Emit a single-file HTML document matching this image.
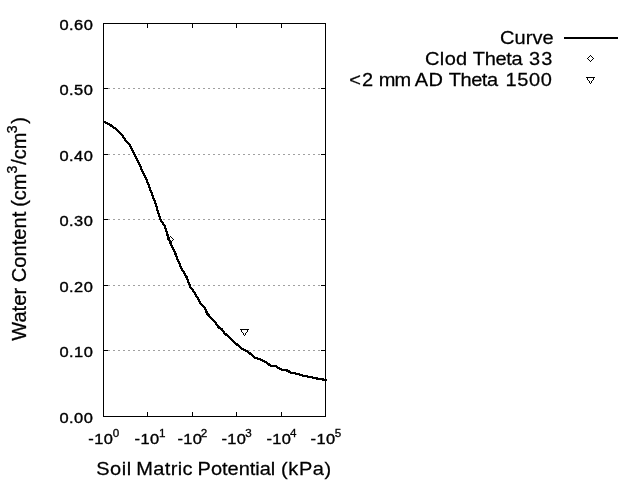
<!DOCTYPE html>
<html><head><meta charset="utf-8"><title>Water Retention Curve</title>
<style>
html,body{margin:0;padding:0;background:#fff;}
body{width:640px;height:480px;overflow:hidden;font-family:"Liberation Sans",sans-serif;}
svg{display:block;will-change:transform;}
text{font-family:"Liberation Sans",sans-serif;fill:#000;stroke:#000;stroke-width:0.2px;}
.tk{font-size:15.5px;stroke-width:0.4px;}
.sup{font-size:11.0px;stroke-width:0.3px;}
.big{font-size:18.8px;stroke-width:0.25px;}
.bsup{font-size:13.6px;stroke-width:0.25px;}
.ybig{font-size:20px;stroke-width:0.3px;}
.ysup{font-size:14px;stroke-width:0.3px;}
</style></head><body>
<svg width="640" height="480" viewBox="0 0 640 480">
<rect x="0" y="0" width="640" height="480" fill="#fff"/>

<g shape-rendering="crispEdges" fill="#a0a0a0">
<rect x="108" y="350" width="2" height="1"/>
<rect x="113" y="350" width="2" height="1"/>
<rect x="118" y="350" width="2" height="1"/>
<rect x="123" y="350" width="2" height="1"/>
<rect x="128" y="350" width="2" height="1"/>
<rect x="133" y="350" width="2" height="1"/>
<rect x="138" y="350" width="2" height="1"/>
<rect x="143" y="350" width="2" height="1"/>
<rect x="148" y="350" width="2" height="1"/>
<rect x="153" y="350" width="2" height="1"/>
<rect x="158" y="350" width="2" height="1"/>
<rect x="163" y="350" width="2" height="1"/>
<rect x="168" y="350" width="2" height="1"/>
<rect x="173" y="350" width="2" height="1"/>
<rect x="178" y="350" width="2" height="1"/>
<rect x="183" y="350" width="2" height="1"/>
<rect x="188" y="350" width="2" height="1"/>
<rect x="193" y="350" width="2" height="1"/>
<rect x="198" y="350" width="2" height="1"/>
<rect x="203" y="350" width="2" height="1"/>
<rect x="208" y="350" width="2" height="1"/>
<rect x="213" y="350" width="2" height="1"/>
<rect x="218" y="350" width="2" height="1"/>
<rect x="223" y="350" width="2" height="1"/>
<rect x="228" y="350" width="2" height="1"/>
<rect x="233" y="350" width="2" height="1"/>
<rect x="238" y="350" width="2" height="1"/>
<rect x="243" y="350" width="2" height="1"/>
<rect x="248" y="350" width="2" height="1"/>
<rect x="253" y="350" width="2" height="1"/>
<rect x="258" y="350" width="2" height="1"/>
<rect x="263" y="350" width="2" height="1"/>
<rect x="268" y="350" width="2" height="1"/>
<rect x="273" y="350" width="2" height="1"/>
<rect x="278" y="350" width="2" height="1"/>
<rect x="283" y="350" width="2" height="1"/>
<rect x="288" y="350" width="2" height="1"/>
<rect x="293" y="350" width="2" height="1"/>
<rect x="298" y="350" width="2" height="1"/>
<rect x="303" y="350" width="2" height="1"/>
<rect x="308" y="350" width="2" height="1"/>
<rect x="313" y="350" width="2" height="1"/>
<rect x="318" y="350" width="2" height="1"/>
<rect x="108" y="285" width="2" height="1"/>
<rect x="113" y="285" width="2" height="1"/>
<rect x="118" y="285" width="2" height="1"/>
<rect x="123" y="285" width="2" height="1"/>
<rect x="128" y="285" width="2" height="1"/>
<rect x="133" y="285" width="2" height="1"/>
<rect x="138" y="285" width="2" height="1"/>
<rect x="143" y="285" width="2" height="1"/>
<rect x="148" y="285" width="2" height="1"/>
<rect x="153" y="285" width="2" height="1"/>
<rect x="158" y="285" width="2" height="1"/>
<rect x="163" y="285" width="2" height="1"/>
<rect x="168" y="285" width="2" height="1"/>
<rect x="173" y="285" width="2" height="1"/>
<rect x="178" y="285" width="2" height="1"/>
<rect x="183" y="285" width="2" height="1"/>
<rect x="188" y="285" width="2" height="1"/>
<rect x="193" y="285" width="2" height="1"/>
<rect x="198" y="285" width="2" height="1"/>
<rect x="203" y="285" width="2" height="1"/>
<rect x="208" y="285" width="2" height="1"/>
<rect x="213" y="285" width="2" height="1"/>
<rect x="218" y="285" width="2" height="1"/>
<rect x="223" y="285" width="2" height="1"/>
<rect x="228" y="285" width="2" height="1"/>
<rect x="233" y="285" width="2" height="1"/>
<rect x="238" y="285" width="2" height="1"/>
<rect x="243" y="285" width="2" height="1"/>
<rect x="248" y="285" width="2" height="1"/>
<rect x="253" y="285" width="2" height="1"/>
<rect x="258" y="285" width="2" height="1"/>
<rect x="263" y="285" width="2" height="1"/>
<rect x="268" y="285" width="2" height="1"/>
<rect x="273" y="285" width="2" height="1"/>
<rect x="278" y="285" width="2" height="1"/>
<rect x="283" y="285" width="2" height="1"/>
<rect x="288" y="285" width="2" height="1"/>
<rect x="293" y="285" width="2" height="1"/>
<rect x="298" y="285" width="2" height="1"/>
<rect x="303" y="285" width="2" height="1"/>
<rect x="308" y="285" width="2" height="1"/>
<rect x="313" y="285" width="2" height="1"/>
<rect x="318" y="285" width="2" height="1"/>
<rect x="108" y="219" width="2" height="1"/>
<rect x="113" y="219" width="2" height="1"/>
<rect x="118" y="219" width="2" height="1"/>
<rect x="123" y="219" width="2" height="1"/>
<rect x="128" y="219" width="2" height="1"/>
<rect x="133" y="219" width="2" height="1"/>
<rect x="138" y="219" width="2" height="1"/>
<rect x="143" y="219" width="2" height="1"/>
<rect x="148" y="219" width="2" height="1"/>
<rect x="153" y="219" width="2" height="1"/>
<rect x="158" y="219" width="2" height="1"/>
<rect x="163" y="219" width="2" height="1"/>
<rect x="168" y="219" width="2" height="1"/>
<rect x="173" y="219" width="2" height="1"/>
<rect x="178" y="219" width="2" height="1"/>
<rect x="183" y="219" width="2" height="1"/>
<rect x="188" y="219" width="2" height="1"/>
<rect x="193" y="219" width="2" height="1"/>
<rect x="198" y="219" width="2" height="1"/>
<rect x="203" y="219" width="2" height="1"/>
<rect x="208" y="219" width="2" height="1"/>
<rect x="213" y="219" width="2" height="1"/>
<rect x="218" y="219" width="2" height="1"/>
<rect x="223" y="219" width="2" height="1"/>
<rect x="228" y="219" width="2" height="1"/>
<rect x="233" y="219" width="2" height="1"/>
<rect x="238" y="219" width="2" height="1"/>
<rect x="243" y="219" width="2" height="1"/>
<rect x="248" y="219" width="2" height="1"/>
<rect x="253" y="219" width="2" height="1"/>
<rect x="258" y="219" width="2" height="1"/>
<rect x="263" y="219" width="2" height="1"/>
<rect x="268" y="219" width="2" height="1"/>
<rect x="273" y="219" width="2" height="1"/>
<rect x="278" y="219" width="2" height="1"/>
<rect x="283" y="219" width="2" height="1"/>
<rect x="288" y="219" width="2" height="1"/>
<rect x="293" y="219" width="2" height="1"/>
<rect x="298" y="219" width="2" height="1"/>
<rect x="303" y="219" width="2" height="1"/>
<rect x="308" y="219" width="2" height="1"/>
<rect x="313" y="219" width="2" height="1"/>
<rect x="318" y="219" width="2" height="1"/>
<rect x="108" y="154" width="2" height="1"/>
<rect x="113" y="154" width="2" height="1"/>
<rect x="118" y="154" width="2" height="1"/>
<rect x="123" y="154" width="2" height="1"/>
<rect x="128" y="154" width="2" height="1"/>
<rect x="133" y="154" width="2" height="1"/>
<rect x="138" y="154" width="2" height="1"/>
<rect x="143" y="154" width="2" height="1"/>
<rect x="148" y="154" width="2" height="1"/>
<rect x="153" y="154" width="2" height="1"/>
<rect x="158" y="154" width="2" height="1"/>
<rect x="163" y="154" width="2" height="1"/>
<rect x="168" y="154" width="2" height="1"/>
<rect x="173" y="154" width="2" height="1"/>
<rect x="178" y="154" width="2" height="1"/>
<rect x="183" y="154" width="2" height="1"/>
<rect x="188" y="154" width="2" height="1"/>
<rect x="193" y="154" width="2" height="1"/>
<rect x="198" y="154" width="2" height="1"/>
<rect x="203" y="154" width="2" height="1"/>
<rect x="208" y="154" width="2" height="1"/>
<rect x="213" y="154" width="2" height="1"/>
<rect x="218" y="154" width="2" height="1"/>
<rect x="223" y="154" width="2" height="1"/>
<rect x="228" y="154" width="2" height="1"/>
<rect x="233" y="154" width="2" height="1"/>
<rect x="238" y="154" width="2" height="1"/>
<rect x="243" y="154" width="2" height="1"/>
<rect x="248" y="154" width="2" height="1"/>
<rect x="253" y="154" width="2" height="1"/>
<rect x="258" y="154" width="2" height="1"/>
<rect x="263" y="154" width="2" height="1"/>
<rect x="268" y="154" width="2" height="1"/>
<rect x="273" y="154" width="2" height="1"/>
<rect x="278" y="154" width="2" height="1"/>
<rect x="283" y="154" width="2" height="1"/>
<rect x="288" y="154" width="2" height="1"/>
<rect x="293" y="154" width="2" height="1"/>
<rect x="298" y="154" width="2" height="1"/>
<rect x="303" y="154" width="2" height="1"/>
<rect x="308" y="154" width="2" height="1"/>
<rect x="313" y="154" width="2" height="1"/>
<rect x="318" y="154" width="2" height="1"/>
<rect x="108" y="88" width="2" height="1"/>
<rect x="113" y="88" width="2" height="1"/>
<rect x="118" y="88" width="2" height="1"/>
<rect x="123" y="88" width="2" height="1"/>
<rect x="128" y="88" width="2" height="1"/>
<rect x="133" y="88" width="2" height="1"/>
<rect x="138" y="88" width="2" height="1"/>
<rect x="143" y="88" width="2" height="1"/>
<rect x="148" y="88" width="2" height="1"/>
<rect x="153" y="88" width="2" height="1"/>
<rect x="158" y="88" width="2" height="1"/>
<rect x="163" y="88" width="2" height="1"/>
<rect x="168" y="88" width="2" height="1"/>
<rect x="173" y="88" width="2" height="1"/>
<rect x="178" y="88" width="2" height="1"/>
<rect x="183" y="88" width="2" height="1"/>
<rect x="188" y="88" width="2" height="1"/>
<rect x="193" y="88" width="2" height="1"/>
<rect x="198" y="88" width="2" height="1"/>
<rect x="203" y="88" width="2" height="1"/>
<rect x="208" y="88" width="2" height="1"/>
<rect x="213" y="88" width="2" height="1"/>
<rect x="218" y="88" width="2" height="1"/>
<rect x="223" y="88" width="2" height="1"/>
<rect x="228" y="88" width="2" height="1"/>
<rect x="233" y="88" width="2" height="1"/>
<rect x="238" y="88" width="2" height="1"/>
<rect x="243" y="88" width="2" height="1"/>
<rect x="248" y="88" width="2" height="1"/>
<rect x="253" y="88" width="2" height="1"/>
<rect x="258" y="88" width="2" height="1"/>
<rect x="263" y="88" width="2" height="1"/>
<rect x="268" y="88" width="2" height="1"/>
<rect x="273" y="88" width="2" height="1"/>
<rect x="278" y="88" width="2" height="1"/>
<rect x="283" y="88" width="2" height="1"/>
<rect x="288" y="88" width="2" height="1"/>
<rect x="293" y="88" width="2" height="1"/>
<rect x="298" y="88" width="2" height="1"/>
<rect x="303" y="88" width="2" height="1"/>
<rect x="308" y="88" width="2" height="1"/>
<rect x="313" y="88" width="2" height="1"/>
<rect x="318" y="88" width="2" height="1"/>
</g>
<g shape-rendering="crispEdges" fill="#000">
<rect x="103" y="23" width="223" height="1"/>
<rect x="103" y="416" width="223" height="1"/>
<rect x="103" y="23" width="1" height="394"/>
<rect x="325" y="23" width="1" height="394"/>
<rect x="103" y="350" width="5" height="1"/>
<rect x="321" y="350" width="5" height="1"/>
<rect x="103" y="285" width="5" height="1"/>
<rect x="321" y="285" width="5" height="1"/>
<rect x="103" y="219" width="5" height="1"/>
<rect x="321" y="219" width="5" height="1"/>
<rect x="103" y="154" width="5" height="1"/>
<rect x="321" y="154" width="5" height="1"/>
<rect x="103" y="88" width="5" height="1"/>
<rect x="321" y="88" width="5" height="1"/>
<rect x="147" y="412" width="1" height="5"/>
<rect x="147" y="23" width="1" height="5"/>
<rect x="192" y="412" width="1" height="5"/>
<rect x="192" y="23" width="1" height="5"/>
<rect x="236" y="412" width="1" height="5"/>
<rect x="236" y="23" width="1" height="5"/>
<rect x="281" y="412" width="1" height="5"/>
<rect x="281" y="23" width="1" height="5"/>
</g>
<polyline points="103.5,121.3 111.2,125.6 115.6,128.8 122.5,135.6 125.6,140.6 130.0,145.0 134.4,154.4 137.5,160.0 141.9,170.0 146.9,180.6 155.6,203.8 160.3,219.4 165.0,226.6 168.8,239.4 174.4,251.2 178.1,260.6 181.9,269.4 186.2,276.2 190.6,287.5 195.0,293.1 200.0,302.8 204.0,306.9 207.5,314.0 215.0,321.9 218.1,326.9 221.9,329.4 224.4,333.1 229.4,337.5 237.5,345.0 243.1,349.4 248.1,351.9 255.0,357.8 261.2,359.6 266.2,362.5 270.6,365.6 275.6,366.2 281.9,369.8 287.5,370.6 291.2,372.8 297.5,373.8 303.8,375.9 311.2,377.1 318.1,378.8 326.6,380.1" fill="none" stroke="#000" stroke-width="2.25" stroke-linejoin="round" shape-rendering="crispEdges"/>
<g fill="none" stroke="#000" stroke-width="1" shape-rendering="crispEdges">
<polygon points="167.5,239.5 170.5,236.5 173.5,239.5 170.5,242.5"/>
<polygon points="240.5,329.5 248.5,329.5 244.5,335.5"/>
<polygon points="587.5,58.5 590.5,55.5 593.5,58.5 590.5,61.5"/>
<polygon points="586.5,77.5 594.5,77.5 590.5,83.5"/>
</g>
<rect x="564" y="37" width="54" height="2" fill="#000" shape-rendering="crispEdges"/>
<text class="tk" transform="translate(59.40,422.60) scale(1.06,1)" style="letter-spacing:0.472px">0.00</text>
<text class="tk" transform="translate(59.40,356.60) scale(1.06,1)" style="letter-spacing:0.472px">0.10</text>
<text class="tk" transform="translate(59.40,291.60) scale(1.06,1)" style="letter-spacing:0.472px">0.20</text>
<text class="tk" transform="translate(59.40,225.60) scale(1.06,1)" style="letter-spacing:0.472px">0.30</text>
<text class="tk" transform="translate(59.40,160.60) scale(1.06,1)" style="letter-spacing:0.472px">0.40</text>
<text class="tk" transform="translate(59.40,94.60) scale(1.06,1)" style="letter-spacing:0.472px">0.50</text>
<text class="tk" transform="translate(59.40,29.60) scale(1.06,1)" style="letter-spacing:0.472px">0.60</text>
<text class="tk" transform="translate(88.25,444.20) scale(1.06,1)" style="letter-spacing:0.472px">-10</text>
<text class="sup" transform="translate(112.85,437.40) scale(1.06,1)">0</text>
<text class="tk" transform="translate(134.50,444.20) scale(1.06,1)" style="letter-spacing:0.472px">-10</text>
<text class="sup" transform="translate(159.00,437.40) scale(1.06,1)">1</text>
<text class="tk" transform="translate(177.60,444.20) scale(1.06,1)" style="letter-spacing:0.236px">-10</text>
<text class="sup" transform="translate(200.75,437.40) scale(1.06,1)">2</text>
<text class="tk" transform="translate(221.40,444.20) scale(1.06,1)" style="letter-spacing:0.401px">-10</text>
<text class="sup" transform="translate(245.35,437.40) scale(1.06,1)">3</text>
<text class="tk" transform="translate(266.40,444.20) scale(1.06,1)" style="letter-spacing:0.401px">-10</text>
<text class="sup" transform="translate(290.10,437.40) scale(1.06,1)">4</text>
<text class="tk" transform="translate(310.60,444.20) scale(1.06,1)" style="letter-spacing:0.401px">-10</text>
<text class="sup" transform="translate(334.65,437.40) scale(1.06,1)">5</text>
<text class="big" transform="translate(96.25,474.60) scale(1.064,1)" style="letter-spacing:0.501px">Soil</text>
<text class="big" transform="translate(136.30,474.60) scale(1.064,1)" style="letter-spacing:0.320px">Matric</text>
<text class="big" transform="translate(197.56,474.60) scale(1.064,1)" style="letter-spacing:-0.013px">Potential</text>
<text class="big" transform="translate(281.05,474.60) scale(1.064,1)" style="letter-spacing:0.564px">(kPa)</text>
<text class="big" transform="translate(500.00,43.80) scale(1.064,1)" style="letter-spacing:0.073px">Curve</text>
<text class="big" transform="translate(425.05,64.80) scale(1.064,1)" style="letter-spacing:0.329px">Clod</text>
<text class="big" transform="translate(472.85,64.80) scale(1.064,1)" style="letter-spacing:-0.305px">Theta</text>
<text class="big" transform="translate(529.05,64.80) scale(1.064,1)" style="letter-spacing:0.987px">33</text>
<text class="big" transform="translate(349.15,85.80) scale(1.064,1)" style="letter-spacing:0.987px">&lt;2</text>
<text class="big" transform="translate(378.65,85.80) scale(1.064,1)" style="letter-spacing:-0.705px">mm</text>
<text class="big" transform="translate(414.80,85.80) scale(1.064,1)" style="letter-spacing:0.376px">AD</text>
<text class="big" transform="translate(448.65,85.80) scale(1.064,1)" style="letter-spacing:-0.399px">Theta</text>
<text class="big" transform="translate(505.45,85.80) scale(1.064,1)" style="letter-spacing:0.583px">1500</text>
<g transform="translate(26.4,341) rotate(-90)">
<text class="ybig" transform="translate(0.20,0.00) scale(1.0,1)" style="letter-spacing:0.071px">Water Content</text>
<text class="ybig" transform="translate(134.20,0.00) scale(1.0,1)" style="letter-spacing:-0.100px">(cm</text>
<text class="ysup" transform="translate(167.40,-9.40) scale(1.0,1)">3</text>
<text class="ybig" transform="translate(176.25,0.00) scale(1.0,1)" style="letter-spacing:-0.025px">/cm</text>
<text class="ysup" transform="translate(207.70,-9.40) scale(1.0,1)">3</text>
<text class="ybig" transform="translate(217.25,0.00) scale(1.0,1)">)</text>
</g>
</svg></body></html>
